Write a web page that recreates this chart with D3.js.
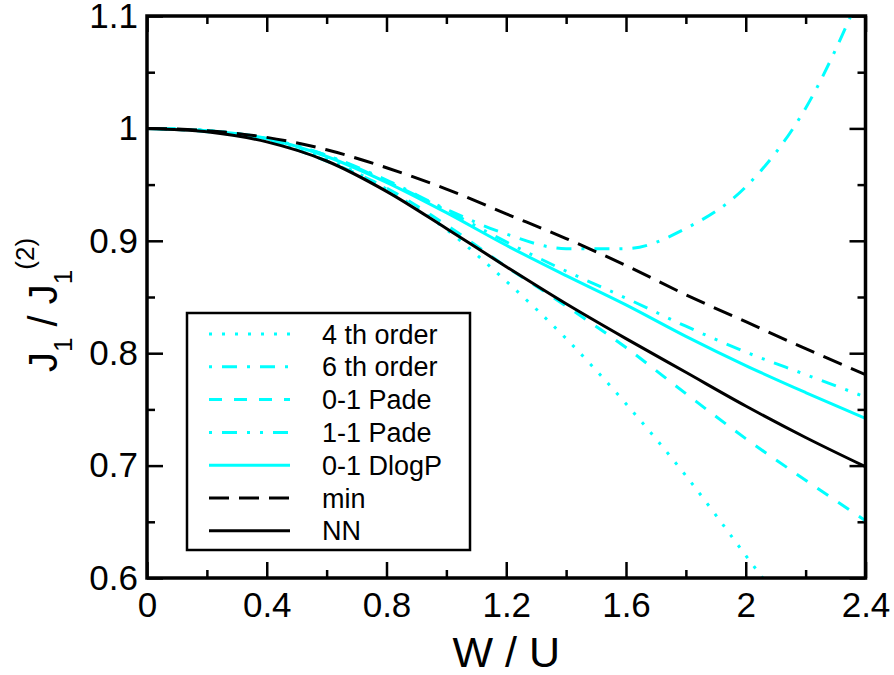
<!DOCTYPE html>
<html>
<head>
<meta charset="utf-8">
<script src="https://cdn.jsdelivr.net/npm/d3@7"></script>
<style>
  body { margin: 0; background: #fff; }
  svg { display: block; font-family: "Liberation Sans", Arial, Helvetica, sans-serif; }
</style>
</head>
<body>
<div id="chart"></div>
<script>
// W/U values where the curves were read
const wu = [0, 0.2, 0.4, 0.6, 0.8, 1.0, 1.2, 1.4, 1.6, 1.8, 2.0, 2.2, 2.4];

// J1 / J1^(2) for each approximation
const order4 = [1.000, 0.998, 0.990, 0.973, 0.946, 0.910, 0.864, 0.813, 0.755, 0.691, 0.620, 0.548, 0.460];
const order6 = [1.000, 0.998, 0.991, 0.976, 0.954, 0.928, 0.906, 0.893, 0.893, 0.911, 0.948, 1.018, 1.130];
const pade01 = [1.000, 0.997, 0.989, 0.971, 0.947, 0.914, 0.877, 0.842, 0.805, 0.764, 0.724, 0.687, 0.651];
const pade11 = [1.000, 0.998, 0.991, 0.976, 0.953, 0.927, 0.899, 0.873, 0.849, 0.824, 0.801, 0.781, 0.761];
const dlogp01 = [1.000, 0.998, 0.991, 0.975, 0.952, 0.925, 0.896, 0.869, 0.843, 0.815, 0.789, 0.765, 0.742];
const minVals = [1.000, 0.998, 0.992, 0.981, 0.965, 0.946, 0.924, 0.902, 0.878, 0.852, 0.828, 0.804, 0.781];
const nnVals = [1.000, 0.997, 0.988, 0.971, 0.944, 0.911, 0.877, 0.844, 0.813, 0.783, 0.753, 0.725, 0.699];

const seriesNames = ['4 th order', '6 th order', '0-1 Pade', '1-1 Pade', '0-1 DlogP', 'min', 'NN'];

const xTicks = [0, 0.4, 0.8, 1.2, 1.6, 2, 2.4];
const yTicks = [0.6, 0.7, 0.8, 0.9, 1, 1.1];

const width = 894;
const height = 675;
const cyan = '#00ffff';

const series = [
  { name: seriesNames[0], vals: order4, color: cyan, dash: '3,10' },
  { name: seriesNames[1], vals: order6, color: cyan, dash: '3,10,15,10' },
  { name: seriesNames[2], vals: pade01, color: cyan, dash: '13,12' },
  { name: seriesNames[3], vals: pade11, color: cyan, dash: '3,10,15,10,3,10' },
  { name: seriesNames[4], vals: dlogp01, color: cyan, dash: null },
  { name: seriesNames[5], vals: minVals, color: '#000', dash: '20,10' },
  { name: seriesNames[6], vals: nnVals, color: '#000', dash: null }
];

const x = d3.scaleLinear().domain([0, 2.4]).range([147, 865.5]);
const y = d3.scaleLinear().domain([0.6, 1.1]).range([578, 16]);

const svg = d3.select('#chart').append('svg')
  .attr('width', width)
  .attr('height', height);

svg.append('defs').append('clipPath')
  .attr('id', 'plot-clip')
  .append('rect')
  .attr('x', x(0)).attr('y', y(1.1))
  .attr('width', x(2.4) - x(0)).attr('height', y(0.6) - y(1.1));

// ticks on all four sides, pointing inward
const minorX = d3.range(0.2, 2.4, 0.4);
const minorY = d3.range(0.65, 1.1, 0.1);

function styleAxis(g) {
  g.select('.domain').remove();
  g.selectAll('.tick line').attr('stroke', '#000').attr('stroke-width', 2.5);
  g.selectAll('.tick text').attr('fill', '#000').attr('font-size', 35);
}

svg.append('g')
  .attr('transform', `translate(0,${y(0.6)})`)
  .call(d3.axisBottom(x).tickValues(xTicks).tickSize(-16).tickPadding(14).tickFormat(d3.format('')))
  .call(styleAxis)
  .attr('font-family', null);

svg.append('g')
  .attr('transform', `translate(0,${y(0.6)})`)
  .call(d3.axisBottom(x).tickValues(minorX).tickSize(-8).tickFormat(''))
  .call(styleAxis);

svg.append('g')
  .attr('transform', `translate(0,${y(1.1)})`)
  .call(d3.axisTop(x).tickValues(xTicks).tickSize(-16).tickFormat(''))
  .call(styleAxis);

svg.append('g')
  .attr('transform', `translate(0,${y(1.1)})`)
  .call(d3.axisTop(x).tickValues(minorX).tickSize(-8).tickFormat(''))
  .call(styleAxis);

svg.append('g')
  .attr('transform', `translate(${x(0)},0)`)
  .call(d3.axisLeft(y).tickValues(yTicks).tickSize(-16).tickPadding(9).tickFormat(d3.format('')))
  .call(styleAxis)
  .attr('font-family', null);

svg.append('g')
  .attr('transform', `translate(${x(0)},0)`)
  .call(d3.axisLeft(y).tickValues(minorY).tickSize(-8).tickFormat(''))
  .call(styleAxis);

svg.append('g')
  .attr('transform', `translate(${x(2.4)},0)`)
  .call(d3.axisRight(y).tickValues(yTicks).tickSize(-16).tickFormat(''))
  .call(styleAxis);

svg.append('g')
  .attr('transform', `translate(${x(2.4)},0)`)
  .call(d3.axisRight(y).tickValues(minorY).tickSize(-8).tickFormat(''))
  .call(styleAxis);

// curves
const line = d3.line()
  .x((d, i) => x(wu[i]))
  .y(d => y(d))
  .curve(d3.curveMonotoneX);

svg.append('g')
  .attr('clip-path', 'url(#plot-clip)')
  .selectAll('path')
  .data(series)
  .join('path')
  .attr('d', d => line(d.vals))
  .attr('fill', 'none')
  .attr('stroke', d => d.color)
  .attr('stroke-width', 3)
  .attr('stroke-dasharray', d => d.dash);

// frame
svg.append('rect')
  .attr('x', x(0)).attr('y', y(1.1))
  .attr('width', x(2.4) - x(0)).attr('height', y(0.6) - y(1.1))
  .attr('fill', 'none')
  .attr('stroke', '#000')
  .attr('stroke-width', 3.5);

// legend
const legend = svg.append('g');
legend.append('rect')
  .attr('x', 187).attr('y', 313)
  .attr('width', 283).attr('height', 237)
  .attr('fill', '#fff')
  .attr('stroke', '#000')
  .attr('stroke-width', 2.5);

const rows = legend.selectAll('g.row')
  .data(series)
  .join('g')
  .attr('class', 'row')
  .attr('transform', (d, i) => `translate(0,${334 + i * 32.8})`);

rows.append('line')
  .attr('x1', 209).attr('x2', 290)
  .attr('stroke', d => d.color)
  .attr('stroke-width', 3)
  .attr('stroke-dasharray', d => d.dash);

rows.append('text')
  .attr('x', 322).attr('y', 9.5)
  .attr('font-size', 27)
  .text(d => d.name);

// axis titles
svg.append('text')
  .attr('x', (x(0) + x(2.4)) / 2)
  .attr('y', 667)
  .attr('text-anchor', 'middle')
  .attr('font-size', 43)
  .text('W / U');

const yTitle = svg.append('text')
  .attr('transform', 'translate(57,372) rotate(-90)')
  .attr('font-size', 40);
yTitle.append('tspan').text('J');
yTitle.append('tspan').attr('font-size', 26).attr('dy', 15).text('1');
yTitle.append('tspan').attr('dy', -15).text(' / J');
yTitle.append('tspan').attr('font-size', 26).attr('dy', 15).text('1');
yTitle.append('tspan').attr('font-size', 26).attr('dy', -38).text('(2)');
</script>
</body>
</html>
